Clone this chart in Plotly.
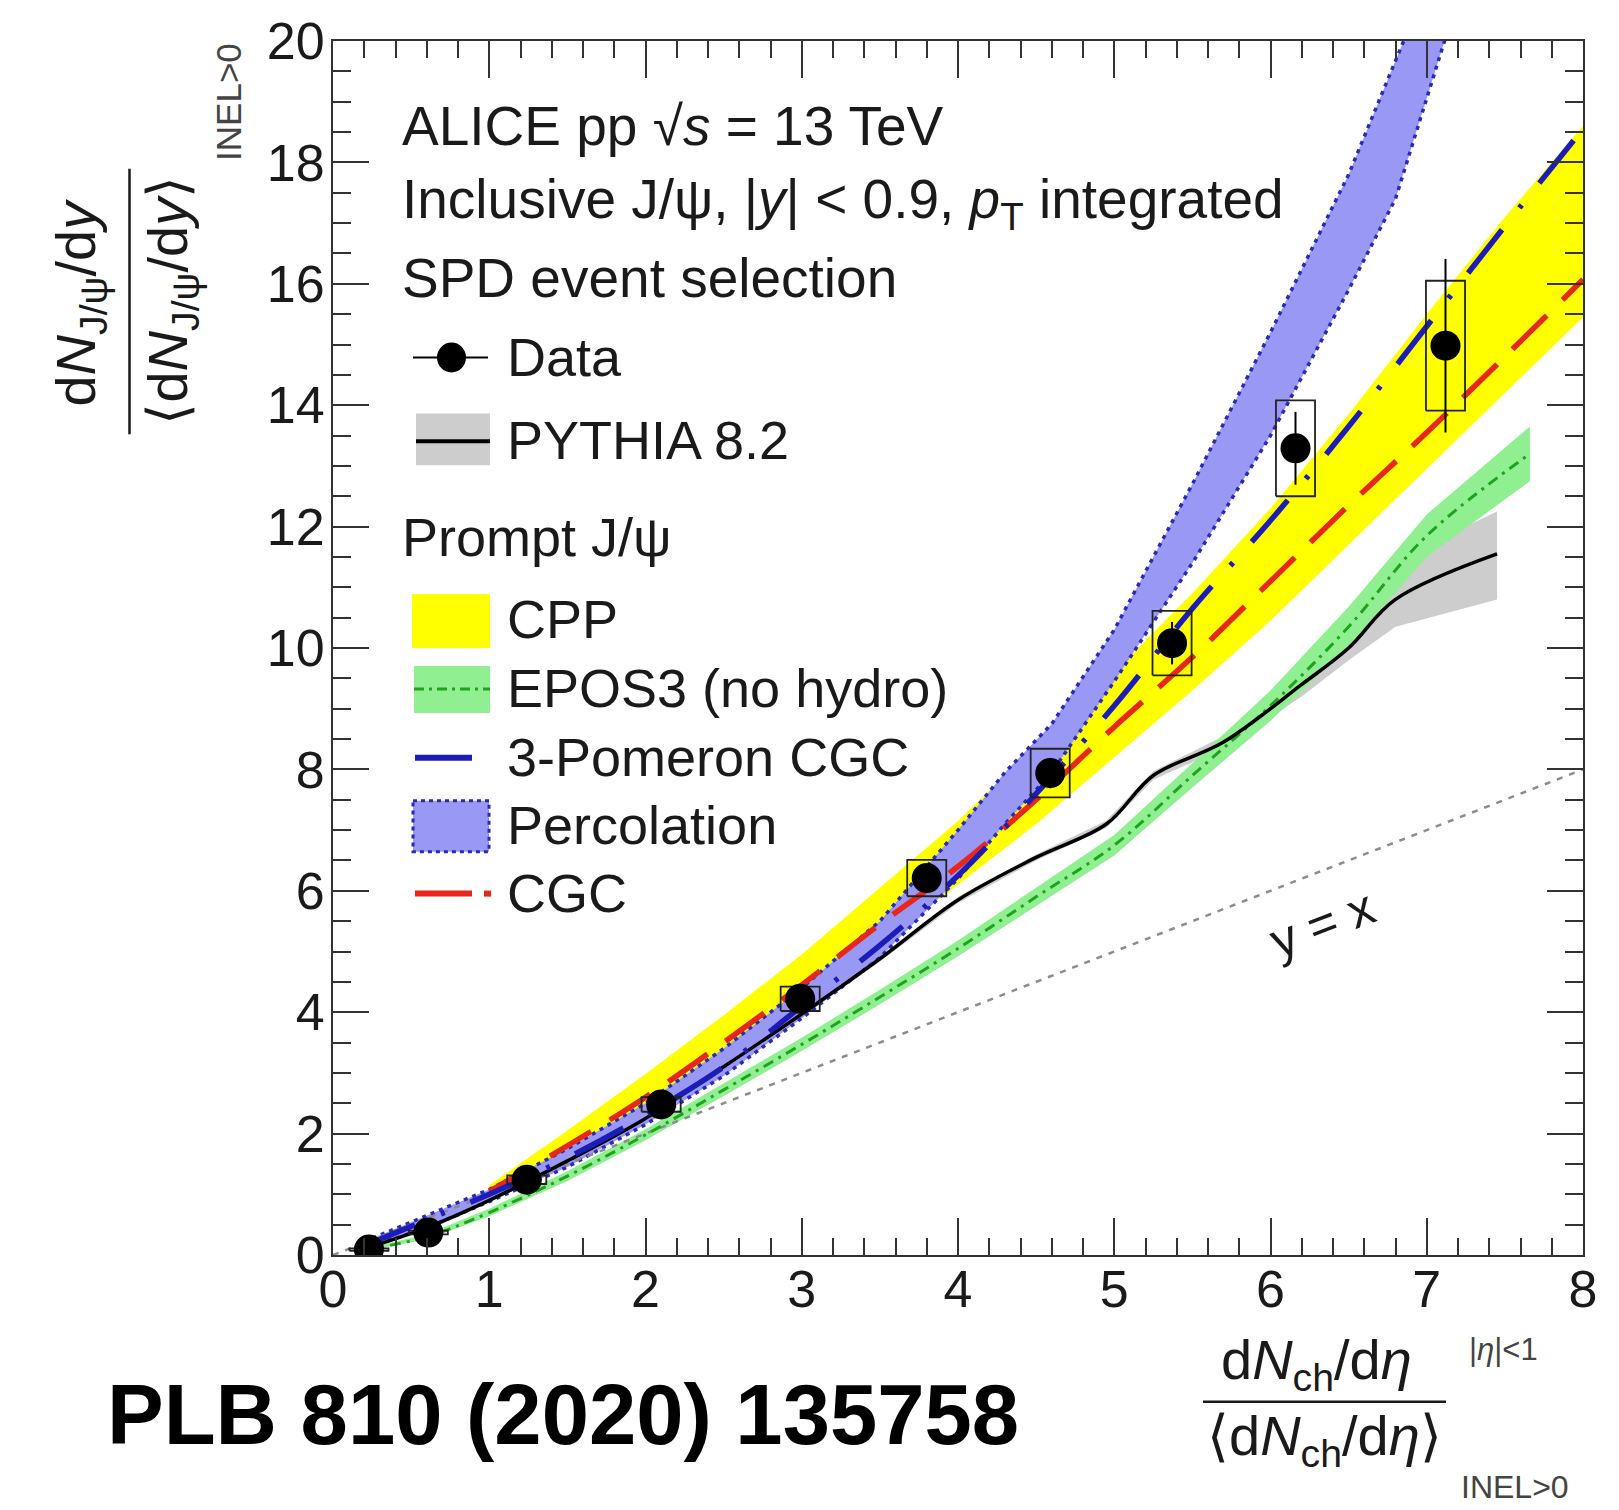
import plotly.graph_objects as go

# ---------------- data ----------------
x_data = [0.23, 0.61, 1.24, 2.10, 2.99, 3.80, 4.59, 5.37, 6.16, 7.12]
y_data = [0.09, 0.37, 1.24, 2.48, 4.22, 6.21, 7.94, 10.08, 13.29, 14.98]
stat_err = [0.02, 0.03, 0.06, 0.10, 0.15, 0.20, 0.25, 0.35, 0.60, 1.43]
syst_err = [0.02, 0.03, 0.07, 0.12, 0.20, 0.30, 0.40, 0.53, 0.79, 1.07]

pythia_x = [0.2, 0.6, 1.0, 1.5, 2.0, 2.5, 3.0, 3.5, 4.0, 4.5, 4.95, 5.25, 5.7, 6.2, 6.5, 6.8, 7.45]
pythia_y = [0.1, 0.45, 0.9, 1.55, 2.25, 3.1, 3.97, 4.88, 5.85, 6.55, 7.1, 7.9, 8.45, 9.4, 10.0, 10.8, 11.55]
pythia_hi = [0.11, 0.47, 0.93, 1.58, 2.28, 3.14, 4.01, 4.93, 5.9, 6.6, 7.16, 7.97, 8.55, 9.65, 10.45, 11.45, 12.25]
pythia_lo = [0.09, 0.43, 0.87, 1.52, 2.22, 3.06, 3.93, 4.83, 5.8, 6.5, 7.04, 7.83, 8.35, 9.2, 9.8, 10.35, 10.8]

epos_x = [0.2, 0.6, 1.0, 1.5, 2.0, 2.5, 3.0, 3.5, 4.0, 4.5, 5.0, 5.5, 6.0, 6.5, 7.0, 7.66]
epos_y = [0.08, 0.3, 0.7, 1.3, 1.98, 2.72, 3.47, 4.25, 5.05, 5.9, 6.75, 7.9, 9.05, 10.35, 11.85, 13.2]
epos_hi = [0.1, 0.34, 0.76, 1.38, 2.07, 2.82, 3.58, 4.37, 5.18, 6.05, 6.92, 8.1, 9.3, 10.68, 12.2, 13.65]
epos_lo = [0.06, 0.26, 0.64, 1.22, 1.89, 2.62, 3.36, 4.13, 4.92, 5.75, 6.58, 7.7, 8.8, 10.02, 11.5, 12.75]

cpp_x = [1.0, 1.5, 2.0, 2.5, 3.0, 3.5, 4.0, 4.5, 5.0, 5.5, 6.0, 6.5, 7.0, 7.5, 8.0]
cpp_hi = [1.15, 2.05, 2.98, 3.95, 4.95, 6.05, 7.15, 8.4, 9.6, 10.9, 12.3, 13.85, 15.5, 17.1, 18.6]
cpp_lo = [0.95, 1.7, 2.45, 3.3, 4.2, 5.15, 6.1, 7.1, 8.2, 9.3, 10.45, 11.7, 12.95, 14.2, 15.45]

cgc_x = [1.0, 1.5, 2.0, 2.5, 3.0, 3.5, 4.0, 4.5, 5.0, 5.5, 6.0, 6.5, 7.0, 7.5, 8.0]
cgc_y = [1.05, 1.8, 2.6, 3.5, 4.45, 5.45, 6.4, 7.5, 8.7, 9.85, 11.1, 12.35, 13.55, 14.8, 16.07]

pom_x = [0.2, 0.6, 1.0, 1.5, 2.0, 2.5, 3.0, 3.5, 4.0, 4.5, 5.0, 5.5, 6.0, 6.5, 7.0, 7.5, 8.0]
pom_y = [0.15, 0.58, 1.0, 1.6, 2.3, 3.1, 4.1, 5.1, 6.25, 7.6, 9.05, 10.65, 12.1, 13.65, 15.3, 16.95, 18.55]

perc_hi_x = [0.2, 0.6, 1.0, 1.5, 2.0, 2.5, 3.0, 3.5, 4.0, 4.3, 4.6, 5.0, 5.5, 6.0, 6.5, 6.9]
perc_hi_y = [0.22, 0.65, 1.08, 1.75, 2.5, 3.4, 4.4, 5.5, 7.0, 7.95, 8.75, 10.3, 12.7, 15.2, 17.8, 20.3]
perc_lo_x = [0.2, 0.6, 1.0, 1.5, 2.0, 2.5, 3.0, 3.5, 4.0, 4.3, 4.6, 5.0, 5.5, 6.0, 6.5, 6.8, 7.15]
perc_lo_y = [0.1, 0.45, 0.88, 1.45, 2.15, 2.95, 3.9, 4.9, 6.2, 7.1, 7.95, 9.45, 11.4, 13.5, 15.9, 17.4, 20.3]

yx_x = [0, 8]
yx_y = [0, 8]

x_ticks = [0, 1, 2, 3, 4, 5, 6, 7, 8]
y_ticks = [0, 2, 4, 6, 8, 10, 12, 14, 16, 18, 20]

# ---------------- styles ----------------
FONT = "Liberation Sans, Arial, Helvetica, sans-serif"
TXT = "#1a1a1a"
YELLOW = "#ffff00"
LAVENDER = "#9999f5"
PERC_EDGE = "#2a2ab4"
BLUE = "#1c1cb8"
RED = "#e8261a"
GREEN_BAND = "#90ef90"
GREEN_LINE = "#1fa31f"
GRAY_BAND = "#cdcdcd"

W, H = 1619, 1510
ML, MR, MT, MB = 333, 36, 39, 255
PW = W - ML - MR
PH = H - MT - MB


def px(xp):
    return (xp - ML) / PW


def py(yp):
    return (H - MB - yp) / PH


def band(xs_hi, ys_hi, xs_lo, ys_lo):
    return list(xs_hi) + list(reversed(xs_lo)) + [xs_hi[0]], \
        list(ys_hi) + list(reversed(ys_lo)) + [ys_hi[0]]


fig = go.Figure()

# CPP band
bx, by = band(cpp_x, cpp_hi, cpp_x, cpp_lo)
fig.add_trace(go.Scatter(x=bx, y=by, mode="lines", fill="toself", fillcolor=YELLOW,
                         line=dict(width=0, color=YELLOW), showlegend=False, hoverinfo="skip"))
# PYTHIA band
bx, by = band(pythia_x, pythia_hi, pythia_x, pythia_lo)
fig.add_trace(go.Scatter(x=bx, y=by, mode="lines", fill="toself", fillcolor=GRAY_BAND,
                         line=dict(width=0, color=GRAY_BAND), showlegend=False, hoverinfo="skip"))
# EPOS band
bx, by = band(epos_x, epos_hi, epos_x, epos_lo)
fig.add_trace(go.Scatter(x=bx, y=by, mode="lines", fill="toself", fillcolor=GREEN_BAND,
                         line=dict(width=0, color=GREEN_BAND), showlegend=False, hoverinfo="skip"))
# Percolation band
bx, by = band(perc_hi_x, perc_hi_y, perc_lo_x, perc_lo_y)
fig.add_trace(go.Scatter(x=bx, y=by, mode="lines", fill="toself", fillcolor=LAVENDER,
                         line=dict(width=3.5, color=PERC_EDGE, dash="4px,5px"),
                         showlegend=False, hoverinfo="skip"))
# y = x
fig.add_trace(go.Scatter(x=yx_x, y=yx_y, mode="lines",
                         line=dict(width=2.5, color="#8c8c8c", dash="6px,7px"),
                         showlegend=False, hoverinfo="skip"))
# EPOS line
fig.add_trace(go.Scatter(x=epos_x, y=epos_y, mode="lines", line_shape="spline",
                         line=dict(width=3, color=GREEN_LINE, dash="11px,6px,3px,6px"),
                         showlegend=False, hoverinfo="skip"))
# PYTHIA line
fig.add_trace(go.Scatter(x=pythia_x, y=pythia_y, mode="lines", line_shape="spline",
                         line=dict(width=3.5, color="black"), showlegend=False, hoverinfo="skip"))
# CGC
fig.add_trace(go.Scatter(x=cgc_x, y=cgc_y, mode="lines", line_shape="spline",
                         line=dict(width=5.5, color=RED, dash="48px,22px"),
                         showlegend=False, hoverinfo="skip"))
# 3-Pomeron CGC
fig.add_trace(go.Scatter(x=pom_x, y=pom_y, mode="lines", line_shape="spline",
                         line=dict(width=5.5, color=BLUE, dash="55px,28px,4px,28px"),
                         showlegend=False, hoverinfo="skip"))

# systematic boxes
bw = 0.125
box_x, box_y = [], []
for xv, yv, sv in zip(x_data, y_data, syst_err):
    box_x += [xv - bw, xv + bw, xv + bw, xv - bw, xv - bw, None]
    box_y += [yv - sv, yv - sv, yv + sv, yv + sv, yv - sv, None]
fig.add_trace(go.Scatter(x=box_x, y=box_y, mode="lines", line=dict(width=1.8, color="#222"),
                         showlegend=False, hoverinfo="skip"))
# data points
fig.add_trace(go.Scatter(x=x_data, y=y_data, mode="markers",
                         marker=dict(size=30, color="black"),
                         error_y=dict(type="data", array=stat_err, visible=True,
                                      thickness=2, width=0, color="black"),
                         showlegend=False))

# ---------------- texts ----------------
ann = []


def text(xp, yp, s, size, xanchor="left", angle=0, color=TXT, xref="paper", yref="paper"):
    if xref == "paper":
        xv, yv = px(xp), py(yp)
    else:
        xv, yv = xp, yp
    ann.append(dict(x=xv, y=yv, xref=xref, yref=yref, text=s, showarrow=False,
                    xanchor=xanchor, yanchor="middle", textangle=angle,
                    font=dict(family=FONT, size=size, color=color)))


# header
text(400, 124, "ALICE pp √<i>s</i> = 13 TeV", 55)
text(400, 201, "Inclusive J/ψ, |<i>y</i>| &lt; 0.9, <i>p</i><sub>T</sub> integrated", 55)
text(400, 276, "SPD event selection", 55)

# legend labels
leg_x = 505
text(leg_x, 356, "Data", 54)
text(leg_x, 439, "PYTHIA 8.2", 54)
text(400, 536, "Prompt J/ψ", 54)
text(leg_x, 618, "CPP", 54)
text(leg_x, 687, "EPOS3 (no hydro)", 54)
text(leg_x, 756, "3-Pomeron CGC", 54)
text(leg_x, 824, "Percolation", 54)
text(leg_x, 892, "CGC", 54)

# y = x label (data coords)
text(6.33, 5.45, "y = x", 50, xanchor="center", angle=-21, xref="x", yref="y")

# y-axis title (fraction)
text(80, 301, "d<i>N</i><sub>J/ψ</sub>/d<i>y</i>", 56, xanchor="center", angle=-90)
text(172, 299, "⟨d<i>N</i><sub>J/ψ</sub>/d<i>y</i>⟩", 56, xanchor="center", angle=-90)
text(229, 100, "INEL&gt;0", 35, xanchor="center", angle=-90, color="#444")

# x-axis title (fraction)
text(1316, 1364, "d<i>N</i><sub>ch</sub>/d<i>η</i>", 56, xanchor="center")
text(1503, 1350, "|<i>η</i>|&lt;1", 31, xanchor="center", color="#444")
text(1324, 1440, "⟨d<i>N</i><sub>ch</sub>/d<i>η</i>⟩", 56, xanchor="center")
text(1515, 1487, "INEL&gt;0", 32, xanchor="center", color="#444")

# reference
ann.append(dict(x=px(563), y=py(1415), xref="paper", yref="paper",
                text="<b>PLB 810 (2020) 135758</b>", showarrow=False,
                xanchor="center", yanchor="middle",
                font=dict(family=FONT, size=85, color="black")))

# ---------------- shapes (fraction bars + legend swatches) ----------------
shapes = []


def pline(x0, y0, x1, y1, color, width, dash=None):
    d = dict(type="line", xref="paper", yref="paper", x0=px(x0), y0=py(y0), x1=px(x1), y1=py(y1),
             line=dict(color=color, width=width))
    if dash:
        d["line"]["dash"] = dash
    shapes.append(d)


def prect(x0, y0, x1, y1, fill, lcolor=None, lwidth=0, dash=None):
    d = dict(type="rect", xref="paper", yref="paper", x0=px(x0), y0=py(y0), x1=px(x1), y1=py(y1),
             fillcolor=fill, line=dict(width=lwidth, color=lcolor or fill))
    if dash:
        d["line"]["dash"] = dash
    shapes.append(d)


# fraction bars
pline(129.5, 167, 129.5, 433, TXT, 2.5)
pline(1203, 1402, 1446, 1402, TXT, 2.5)

# legend: Data
pline(413, 356, 488, 356, "black", 2)
shapes.append(dict(type="circle", xref="paper", yref="paper", x0=px(437), x1=px(466),
                   y0=py(341), y1=py(371), fillcolor="black", line=dict(width=0, color="black")))
# PYTHIA
prect(416, 412, 490, 464, GRAY_BAND)
pline(416, 440, 490, 440, "black", 4)
# CPP
prect(412, 593, 490, 647, YELLOW)
# EPOS3
prect(414, 665, 490, 712, GREEN_BAND)
pline(414, 688, 490, 688, GREEN_LINE, 3, "10px,5px,3px,5px")
# 3-Pomeron
pline(415, 757, 472, 757, BLUE, 6)
# Percolation
prect(413, 800, 489, 851, LAVENDER, PERC_EDGE, 3, "4px,4px")
# CGC
pline(415, 893, 472, 893, RED, 6)
pline(484, 893, 491, 893, RED, 6)

axis_common = dict(
    showgrid=False, zeroline=False, showline=True, linecolor="#333", linewidth=2,
    mirror="allticks", ticks="inside", tickwidth=2, tickcolor="#333",
    tickfont=dict(family=FONT, size=52, color=TXT),
)

fig.update_layout(
    width=W, height=H,
    margin=dict(l=ML, r=MR, t=MT, b=MB, pad=0),
    paper_bgcolor="white", plot_bgcolor="white",
    showlegend=False,
    annotations=ann,
    shapes=shapes,
    xaxis=dict(range=[0, 8], tickmode="array", tickvals=x_ticks, ticktext=[str(v) for v in x_ticks],
               ticklen=37, ticklabelstandoff=-12,
               minor=dict(ticks="inside", dtick=0.2, ticklen=17, tickwidth=2, tickcolor="#333", showgrid=False),
               **axis_common),
    yaxis=dict(range=[0, 20], tickmode="array", tickvals=y_ticks, ticktext=[str(v) for v in y_ticks],
               ticklen=36, ticklabelstandoff=-4,
               minor=dict(ticks="inside", dtick=0.5, ticklen=18, tickwidth=2, tickcolor="#333", showgrid=False),
               **axis_common),
)

fig.write_html("out.html")
